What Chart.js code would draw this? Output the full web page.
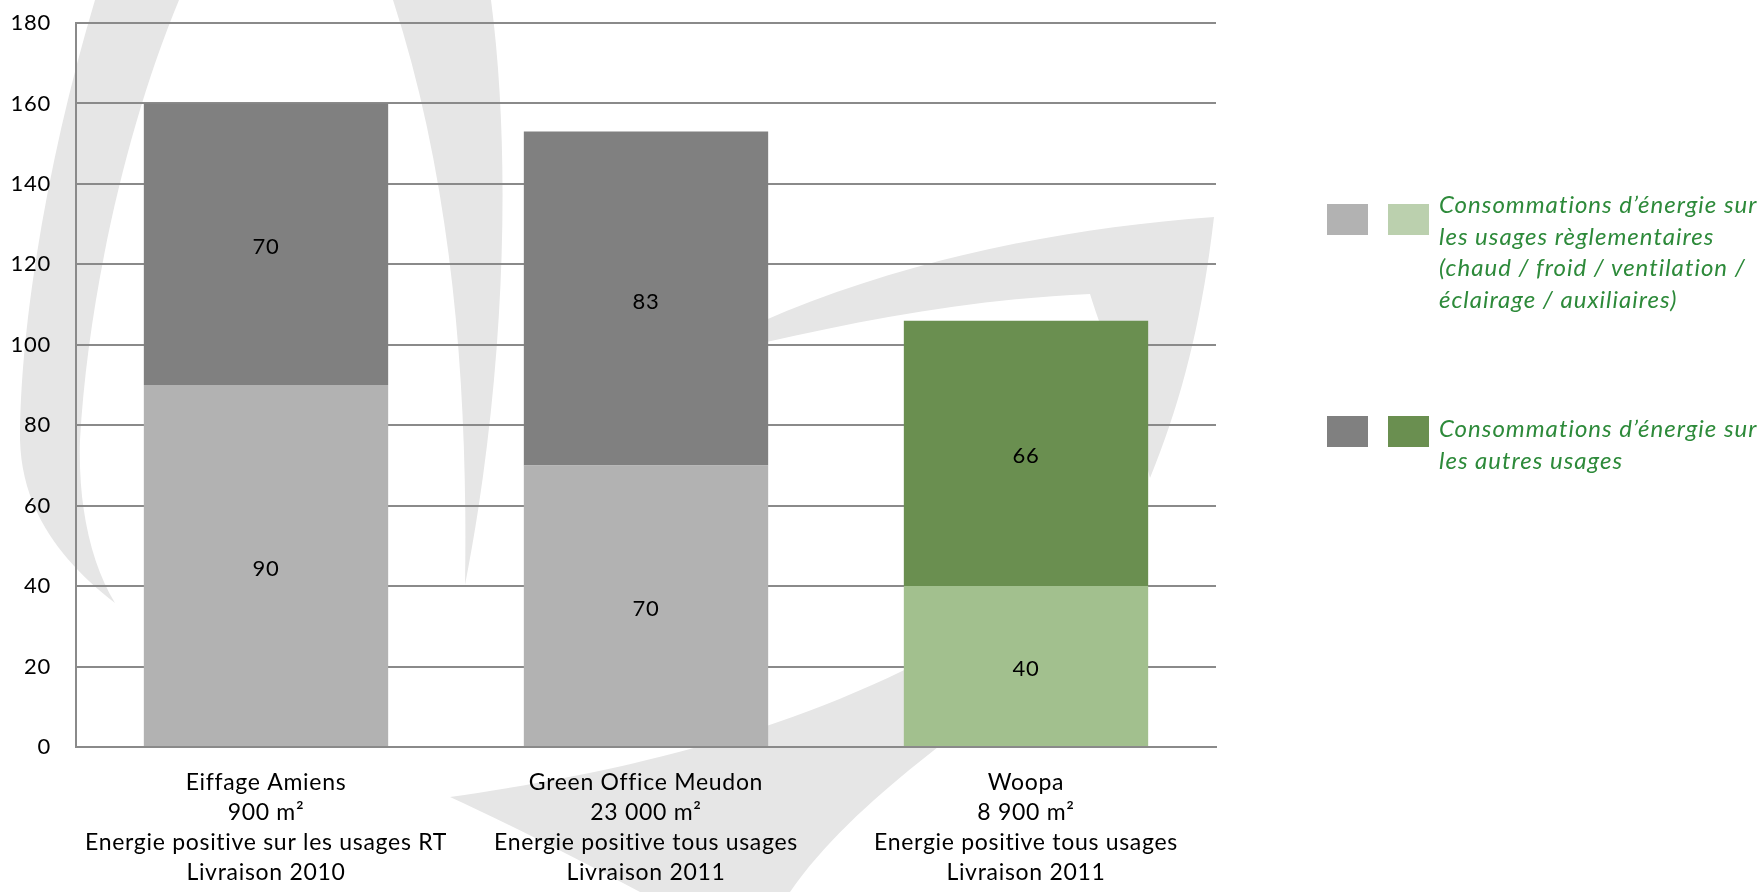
<!DOCTYPE html>
<html lang="fr">
<head>
<meta charset="utf-8">
<title>Consommations d'énergie</title>
<script src="https://cdn.jsdelivr.net/npm/chart.js@4.4.1/dist/chart.umd.min.js"></script>
<style>
  body { margin: 0; background: #fff; }
  #wrap { position: relative; width: 1764px; height: 892px; overflow: hidden; font-family: Lato, sans-serif; }
  #logo, #energyChart { position: absolute; left: 0; top: 0; }
  .sw { position: absolute; width: 41px; height: 31px; }
  .legend-text { position: absolute; left: 1439px; color: #2D8A3A; font-style: italic; font-size: 24px; letter-spacing: 1px; line-height: 31.7px; white-space: nowrap; }
</style>
</head>
<body>
<div id="wrap">
  <!-- filigrane du logo en fond -->
  <svg id="logo" width="1764" height="892" viewBox="0 0 1764 892">
    <g fill="#E6E6E6">
      <path d="M95,0 L179,0 C125,130 88,300 80,440 C78,510 92,565 115,603 C60,560 22,510 20,440 C20,320 50,150 95,0 Z"/>
      <path d="M393,0 L491,0 C512,160 505,380 465,585 C468,400 455,190 393,0 Z"/>
      <path d="M730,336 C875,267 1040,230 1214,217 C1202,320 1182,400 1150,478 C1132,400 1104,340 1090,294 C960,300 855,322 730,350 Z"/>
      <path d="M450,797 C600,775 820,735 1010,610 L1000,700 C920,760 840,820 790,892 L640,892 C560,850 500,820 450,797 Z"/>
    </g>
  </svg>
  <canvas id="energyChart" width="1764" height="892"></canvas>

  <div class="sw" style="left:1327px; top:204px; background:#B2B2B2;"></div>
  <div class="sw" style="left:1388px; top:204px; background:#BBD0AE;"></div>
  <div class="legend-text" style="top:188px;">Consommations d’énergie sur<br>les usages règlementaires<br>(chaud / froid / ventilation /<br>éclairage / auxiliaires)</div>

  <div class="sw" style="left:1327px; top:416px; background:#808080;"></div>
  <div class="sw" style="left:1388px; top:416px; background:#6A8F50;"></div>
  <div class="legend-text" style="top:412px;">Consommations d’énergie sur<br>les autres usages</div>
</div>

<script>
const categories = [
    ['Eiffage Amiens', '900 m²', 'Energie positive sur les usages RT', 'Livraison 2010'],
    ['Green Office Meudon', '23 000 m²', 'Energie positive tous usages', 'Livraison 2011'],
    ['Woopa', '8 900 m²', 'Energie positive tous usages', 'Livraison 2011']
];
const usagesReglementaires = [90, 70, 40];
const autresUsages = [70, 83, 66];
const yTicks = [0, 20, 40, 60, 80, 100, 120, 140, 160, 180];

// une couleur par bâtiment (gris pour les deux premiers, vert pour Woopa)
const couleursReglementaires = ['#B2B2B2', '#B2B2B2', '#A2C08E'];
const couleursAutres = ['#808080', '#808080', '#6A8F50'];

const gridColor = '#8A8A8A';

// le texte Calibri d'origine est un peu plus large que Lato
const letterSpacing = {
    id: 'letterSpacing',
    beforeDraw(chart) {
        chart.ctx.letterSpacing = '0.7px';
    }
};

// valeurs au centre de chaque segment
const segmentLabels = {
    id: 'segmentLabels',
    afterDatasetsDraw(chart) {
        const ctx = chart.ctx;
        ctx.save();
        ctx.font = '22px Lato';
        ctx.fillStyle = '#000';
        ctx.textAlign = 'center';
        ctx.textBaseline = 'middle';
        chart.data.datasets.forEach((ds, i) => {
            chart.getDatasetMeta(i).data.forEach((bar, j) => {
                ctx.fillText(ds.data[j], bar.x, (bar.y + bar.base) / 2 + 3);
            });
        });
        ctx.restore();
    }
};

const data = {
    labels: categories,
    datasets: [
        {
            label: 'Consommations d’énergie sur les usages règlementaires',
            data: usagesReglementaires,
            backgroundColor: couleursReglementaires,
            borderWidth: 0
        },
        {
            label: 'Consommations d’énergie sur les autres usages',
            data: autresUsages,
            backgroundColor: couleursAutres,
            borderWidth: 0
        }
    ]
};

const config = {
    type: 'bar',
    data: data,
    options: {
        responsive: false,
        animation: false,
        categoryPercentage: 1,
        barPercentage: 0.643,
        layout: {
            padding: { top: 23, right: 548, bottom: 0, left: 0 }
        },
        plugins: {
            legend: { display: false },
            tooltip: { enabled: false }
        },
        scales: {
            x: {
                stacked: true,
                grid: { display: false, drawTicks: false },
                border: { display: true, color: gridColor, width: 2 },
                ticks: {
                    color: '#000',
                    padding: 21,
                    maxRotation: 0,
                    autoSkip: false,
                    font: { family: 'Lato', size: 23, lineHeight: '30px' }
                },
                afterFit(scale) { scale.height = 145; }
            },
            y: {
                stacked: true,
                min: 0,
                max: 180,
                grid: { color: gridColor, lineWidth: 2, drawTicks: false },
                border: { display: true, color: gridColor, width: 2 },
                ticks: {
                    color: '#000',
                    padding: 25,
                    font: { family: 'Lato', size: 22 }
                },
                afterBuildTicks(scale) {
                    scale.ticks = yTicks.map(v => ({ value: v }));
                },
                afterFit(scale) {
                    scale.width = 76;
                    scale.paddingTop = 13;
                    scale.paddingBottom = 13;
                }
            }
        }
    },
    plugins: [letterSpacing, segmentLabels]
};

const ctx = document.getElementById('energyChart').getContext('2d');
new Chart(ctx, config);
</script>
</body>
</html>
